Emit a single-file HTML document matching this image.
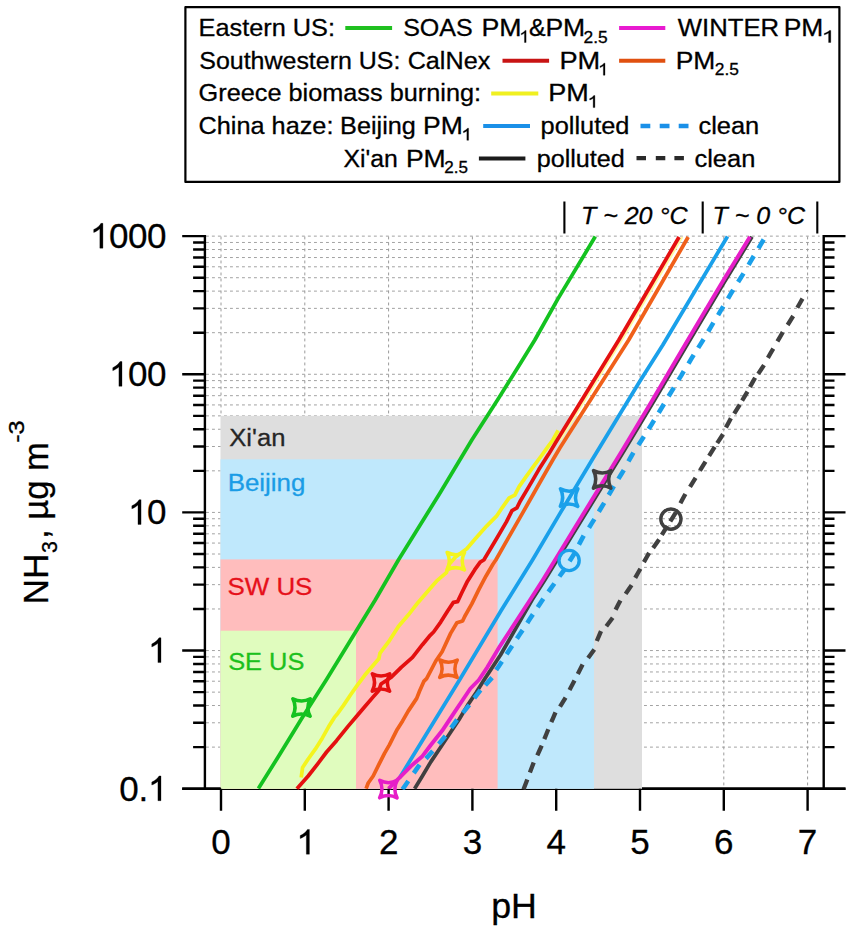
<!DOCTYPE html><html><head><meta charset="utf-8"><title>chart</title>
<style>html,body{margin:0;padding:0;background:#fff}svg{display:block}text{font-family:"Liberation Sans",sans-serif;fill:#000;stroke:#000;stroke-width:0.3px}</style></head><body>
<svg width="850" height="929" viewBox="0 0 850 929">
<rect width="850" height="929" fill="#fff"/>
<path d="M206.0 788.70H819.7M206.0 747.12H819.7M206.0 722.79H819.7M206.0 705.53H819.7M206.0 692.14H819.7M206.0 681.21H819.7M206.0 671.96H819.7M206.0 663.95H819.7M206.0 656.88H819.7M206.0 650.56H819.7M206.0 608.98H819.7M206.0 584.65H819.7M206.0 567.39H819.7M206.0 554.00H819.7M206.0 543.07H819.7M206.0 533.82H819.7M206.0 525.81H819.7M206.0 518.74H819.7M206.0 512.42H819.7M206.0 470.84H819.7M206.0 446.51H819.7M206.0 429.25H819.7M206.0 415.86H819.7M206.0 404.93H819.7M206.0 395.68H819.7M206.0 387.67H819.7M206.0 380.60H819.7M206.0 374.28H819.7M206.0 332.70H819.7M206.0 308.37H819.7M206.0 291.11H819.7M206.0 277.72H819.7M206.0 266.79H819.7M206.0 257.54H819.7M206.0 249.53H819.7M206.0 242.46H819.7M205.9 236.14H819.7" stroke="#a2a2a2" stroke-width="1" stroke-dasharray="2.9 3.1" fill="none"/>
<path d="M221.00 236.5V415.5M304.80 236.5V788.7M388.60 236.5V788.7M472.40 236.5V788.7M556.20 236.5V788.7M640.00 236.5V788.7M723.80 236.5V788.7M807.60 236.5V788.7" stroke="#9a9a9a" stroke-width="1" stroke-dasharray="2.9 3.1" fill="none"/>
<path d="M182.2 788.7H845.5" stroke="#000" stroke-width="2.4" fill="none"/>
<rect x="220.5" y="415.8" width="421.5" height="373.0" fill="#dedede"/>
<rect x="220.5" y="459.3" width="373.5" height="329.5" fill="#bfe8fc"/>
<rect x="220.5" y="559.4" width="277.1" height="229.4" fill="#ffbdbd"/>
<rect x="220.5" y="630.7" width="135.5" height="158.1" fill="#e0fcbe"/>
<text transform="translate(229.22,446.00) scale(1.0428,1)" font-size="24.6" style="fill:#262626;stroke:#262626">Xi'an</text>
<text transform="translate(227.66,490.50) scale(1.0522,1)" font-size="24.6" style="fill:#1a9ce6;stroke:#1a9ce6">Beijing</text>
<text transform="translate(227.43,595.20) scale(1.0542,1)" font-size="24.6" style="fill:#e6101a;stroke:#e6101a">SW US</text>
<text transform="translate(228.16,669.60) scale(1.0323,1)" font-size="24.6" style="fill:#1cc01c;stroke:#1cc01c">SE US</text>
<clipPath id="pc"><rect x="205" y="200" width="640" height="589.8"/></clipPath><g clip-path="url(#pc)">
<path d="M560.3 440.0 L621.9 340.0 L682.3 237.0" stroke="#fff9a0" stroke-width="2.2" fill="none" stroke-linejoin="round"/>
<path d="M301.2 777.4 L302.6 767.5 L308.2 759.0 L315.3 749.2 L322.4 737.9 L328.7 726.6 L334.4 717.4 L337.9 713.2 L343.5 705.4 L350.6 694.8 L357.0 685.6 L361.2 680.0 L364.7 675.3 L378.8 658.8 L380.0 653.2 L388.5 641.9 L398.4 626.4 L408.2 615.1 L418.1 602.4 L428.0 591.1 L436.5 581.2 L446.4 572.7 L449.2 564.2 L455.5 557.0 L466.8 548.7 L475.3 538.8 L486.6 526.1 L496.5 516.2 L502.1 507.8 L509.2 497.9 L514.8 495.1 L519.1 486.6 L526.1 476.7 L533.2 466.8 L541.6 455.5 L548.7 445.6 L552.9 440.0 L558.1 430.4" stroke="#f4f41e" stroke-width="3.75" fill="none" stroke-linejoin="round"/>
<path d="M258.4 788.5 L279.5 754.8 L302.0 718.0 L326.2 680.0 L375.2 600.0 L398.4 560.0 L440.0 493.0 L471.8 440.0 L497.5 400.0 L520.0 364.0 L534.8 340.0 L557.6 299.4 L595.3 236.5" stroke="#14c220" stroke-width="3.75" fill="none" stroke-linejoin="round"/>
<path d="M366.1 788.7 L368.2 783.0 L373.2 776.0 L378.8 764.7 L384.5 753.4 L389.4 744.9 L392.9 737.9 L397.2 729.4 L402.6 720.9 L408.2 711.1 L416.7 698.4 L419.5 691.3 L423.8 681.4 L426.6 678.6 L435.8 661.0 L442.1 651.8 L450.6 633.4 L456.9 622.8 L462.6 621.0 L464.7 616.5 L471.8 603.8 L478.8 589.6 L485.9 576.2 L492.9 564.2 L495.8 560.0 L507.8 538.8 L519.1 519.1 L530.4 499.3 L541.6 479.5 L552.9 459.8 L560.0 447.8 L628.7 340.0 L688.2 237.0" stroke="#f0601a" stroke-width="3.75" fill="none" stroke-linejoin="round"/>
<path d="M296.9 788.7 L308.2 776.0 L318.1 763.3 L326.6 752.0 L336.5 740.7 L347.8 726.6 L356.2 716.7 L364.7 706.8 L373.2 696.9 L378.8 690.6 L381.0 684.0 L391.3 677.2 L401.2 667.3 L412.5 657.4 L422.4 644.7 L429.4 636.2 L433.6 632.0 L440.7 622.1 L447.8 610.8 L453.4 602.4 L457.6 601.6 L461.9 592.5 L467.5 581.2 L474.6 569.9 L480.2 562.1 L483.8 560.0 L496.5 538.8 L506.4 521.9 L512.0 510.6 L516.9 507.8 L520.5 500.7 L528.9 486.6 L538.8 469.6 L548.7 454.1 L557.2 440.0 L618.8 340.0 L679.1 237.0" stroke="#e41010" stroke-width="3.75" fill="none" stroke-linejoin="round"/>
<path d="M399.8 777.4 L459.5 680.0 L501.0 610.8 L532.5 560.0 L560.0 513.4 L592.0 460.0 L640.0 381.0 L662.8 345.0 L720.0 249.0 L727.5 236.5" stroke="#1aa0ea" stroke-width="3.75" fill="none" stroke-linejoin="round"/>
<path d="M414.6 788.7 L422.4 776.0 L430.8 761.9 L439.3 749.2 L450.6 732.2 L459.1 719.5 L467.5 705.4 L476.0 692.7 L484.0 680.0 L500.5 655.0 L532.0 600.0 L544.8 580.0 L624.5 450.0 L654.5 400.0 L686.9 345.0 L723.0 284.3 L752.0 236.8" stroke="#404040" stroke-width="3.75" fill="none" stroke-linejoin="round"/>
<path d="M388.5 788.7 L399.8 777.4 L411.0 766.1 L422.4 756.2 L430.8 745.0 L442.1 730.8 L453.4 713.9 L464.7 697.0 L470.4 688.5 L478.8 680.0 L487.3 667.3 L500.0 646.1 L530.0 600.0 L542.8 580.0 L622.5 450.0 L652.5 400.0 L684.9 345.0 L721.0 284.3 L750.0 236.8" stroke="#e61ec8" stroke-width="3.9" fill="none" stroke-linejoin="round"/>
<path d="M402.5 789.4L405.4 785.2L408.3 781.0M413.8 773.1L416.7 768.9L419.6 764.7M426.0 758.6L429.4 754.8L432.8 751.0M438.8 743.9L442.1 740.0L445.4 736.1M451.1 727.9L454.1 723.8L457.1 719.7M462.9 712.9L466.1 708.9L469.3 704.9M474.3 698.2L477.4 694.1L480.5 690.0M485.3 685.2L488.7 681.4L492.1 677.6M496.2 670.0L499.1 665.7L501.9 661.4M506.6 654.3L509.4 650.0L512.2 645.8M516.9 638.6L519.8 634.3L522.6 630.1M527.3 622.9L530.1 618.6L532.9 614.4M537.7 607.2L540.5 602.9L543.3 598.7M548.4 591.8L551.4 587.6L554.4 583.5M559.4 576.5L562.4 572.4L565.4 568.3M569.5 561.3L572.2 557.0L574.9 552.7M578.9 544.7L581.3 540.2L583.7 535.7M589.0 527.7L591.7 523.4L594.4 519.1M598.8 511.7L601.5 507.3L604.2 502.9M608.7 495.0L611.3 490.6L613.9 486.2M618.4 478.9L621.1 474.5L623.8 470.1M628.4 461.4L630.9 457.0L633.4 452.6M638.4 445.1L641.2 440.8L643.9 436.5M648.7 429.0L651.4 424.7L654.1 420.3M658.7 412.7L661.4 408.3L664.0 404.0M668.6 396.3L671.3 391.9L673.9 387.6M678.5 379.9L681.2 375.6L683.8 371.2M688.5 363.6L691.1 359.2L693.7 354.8M698.2 347.9L700.9 343.6L703.6 339.3M708.2 331.5L710.8 327.1L713.4 322.7M718.1 315.1L720.7 310.7L723.3 306.3M728.0 298.6L730.6 294.2L733.2 289.8M738.1 282.0L740.8 277.7L743.5 273.4M748.6 264.8L751.2 260.4L753.8 256.0M758.5 248.3L761.1 243.9L763.7 239.5" stroke="#1aa0ea" stroke-width="4.6" fill="none" stroke-linejoin="round"/>
<path d="M523.5 789.4L525.4 784.4L527.3 779.4M529.9 772.4L531.8 767.4L533.7 762.4M537.3 755.3L539.5 750.5L541.7 745.7M544.3 739.1L546.3 734.2L548.3 729.3M551.3 722.2L553.4 717.3L555.5 712.4M560.0 706.7L562.8 702.2L565.6 697.7M569.5 689.9L572.0 685.2L574.5 680.5M577.8 674.0L580.2 669.3L582.6 664.6M588.1 658.1L591.2 653.8L594.3 649.5M596.8 641.0L598.9 636.1L601.0 631.2M606.3 626.2L609.5 622.0L612.7 617.8M615.6 609.8L618.0 605.1L620.4 600.4M625.6 593.9L628.6 589.5L631.6 585.1M635.2 577.9L637.8 573.3L640.4 568.7M643.9 562.1L646.5 557.5L649.1 552.9M653.1 548.1L656.1 543.8L659.1 539.5M661.8 534.9L664.6 530.4L667.4 525.9M670.3 521.4L673.1 516.9L675.9 512.4M680.4 503.3L682.9 498.6L685.4 493.9M690.0 486.9L692.8 482.4L695.6 477.9M699.9 470.6L702.7 466.1L705.5 461.6M709.1 455.8L711.9 451.3L714.7 446.8M717.2 443.1L720.1 438.7L723.0 434.3M725.9 427.6L728.4 422.9L730.9 418.2M734.2 413.6L737.0 409.1L739.8 404.6M742.1 400.7L744.8 396.2L747.5 391.7M749.9 387.0L752.5 382.4L755.1 377.8M758.2 373.9L761.1 369.5L764.0 365.1M767.9 357.8L770.6 353.2L773.3 348.6M777.4 341.4L780.1 336.8L782.8 332.2M787.6 325.0L790.4 320.5L793.2 316.0M797.3 307.8L799.9 303.2L802.5 298.6" stroke="#404040" stroke-width="4.3" fill="none" stroke-linejoin="round"/>
<path d="M806 291.5L808 290" stroke="#404040" stroke-width="1.5"/>
</g>
<path d="M310.2 716.3Q301.5 711.6 292.7 716.2Q297.4 707.5 292.8 698.7Q301.5 703.4 310.3 698.8Q305.6 707.5 310.2 716.3Z" stroke="#14c220" stroke-width="3.5" fill="none" stroke-linejoin="round"/>
<path d="M389.7 691.3Q381.0 686.6 372.2 691.2Q376.9 682.5 372.3 673.7Q381.0 678.4 389.8 673.8Q385.1 682.5 389.7 691.3Z" stroke="#e41010" stroke-width="3.5" fill="none" stroke-linejoin="round"/>
<path d="M457.2 677.5Q448.5 672.8 439.7 677.4Q444.4 668.7 439.8 659.9Q448.5 664.6 457.3 660.0Q452.6 668.7 457.2 677.5Z" stroke="#f0601a" stroke-width="3.5" fill="none" stroke-linejoin="round"/>
<path d="M464.5 570.0Q455.8 565.3 447.0 569.9Q451.7 561.2 447.1 552.4Q455.8 557.1 464.6 552.5Q459.9 561.2 464.5 570.0Z" stroke="#f4f41e" stroke-width="3.5" fill="none" stroke-linejoin="round"/>
<path d="M577.8 506.4Q569.1 501.7 560.3 506.3Q565.0 497.6 560.4 488.8Q569.1 493.5 577.9 488.9Q573.2 497.6 577.8 506.4Z" stroke="#1aa0ea" stroke-width="3.5" fill="none" stroke-linejoin="round"/>
<path d="M610.9 488.2Q602.2 483.5 593.4 488.1Q598.1 479.4 593.5 470.6Q602.2 475.3 611.0 470.7Q606.3 479.4 610.9 488.2Z" stroke="#404040" stroke-width="3.5" fill="none" stroke-linejoin="round"/>
<circle cx="569.1" cy="560.5" r="10.1" stroke="#1aa0ea" stroke-width="3.4" fill="none"/>
<circle cx="670.9" cy="519.1" r="10.1" stroke="#404040" stroke-width="3.4" fill="none"/>
<path d="M204.9 235.0V789.9M823.7 235.0V789.9M182.2 788.7H221M642 788.7H845.5M182.2 788.70H204.9M823.7 788.70H845.5M193.1 747.12H204.9M823.7 747.12H834.5M193.1 722.79H204.9M823.7 722.79H834.5M193.1 705.53H204.9M823.7 705.53H834.5M193.1 692.14H204.9M823.7 692.14H834.5M193.1 681.21H204.9M823.7 681.21H834.5M193.1 671.96H204.9M823.7 671.96H834.5M193.1 663.95H204.9M823.7 663.95H834.5M193.1 656.88H204.9M823.7 656.88H834.5M182.2 650.56H204.9M823.7 650.56H845.5M193.1 608.98H204.9M823.7 608.98H834.5M193.1 584.65H204.9M823.7 584.65H834.5M193.1 567.39H204.9M823.7 567.39H834.5M193.1 554.00H204.9M823.7 554.00H834.5M193.1 543.07H204.9M823.7 543.07H834.5M193.1 533.82H204.9M823.7 533.82H834.5M193.1 525.81H204.9M823.7 525.81H834.5M193.1 518.74H204.9M823.7 518.74H834.5M182.2 512.42H204.9M823.7 512.42H845.5M193.1 470.84H204.9M823.7 470.84H834.5M193.1 446.51H204.9M823.7 446.51H834.5M193.1 429.25H204.9M823.7 429.25H834.5M193.1 415.86H204.9M823.7 415.86H834.5M193.1 404.93H204.9M823.7 404.93H834.5M193.1 395.68H204.9M823.7 395.68H834.5M193.1 387.67H204.9M823.7 387.67H834.5M193.1 380.60H204.9M823.7 380.60H834.5M182.2 374.28H204.9M823.7 374.28H845.5M193.1 332.70H204.9M823.7 332.70H834.5M193.1 308.37H204.9M823.7 308.37H834.5M193.1 291.11H204.9M823.7 291.11H834.5M193.1 277.72H204.9M823.7 277.72H834.5M193.1 266.79H204.9M823.7 266.79H834.5M193.1 257.54H204.9M823.7 257.54H834.5M193.1 249.53H204.9M823.7 249.53H834.5M193.1 242.46H204.9M823.7 242.46H834.5M182.2 236.14H204.9M823.7 236.14H845.5M221.00 788.7V810.8M304.80 788.7V810.8M388.60 788.7V810.8M472.40 788.7V810.8M556.20 788.7V810.8M640.00 788.7V810.8M723.80 788.7V810.8M807.60 788.7V810.8" stroke="#000" stroke-width="2.4" fill="none"/>
<path d="M397.1 797.9Q388.4 793.2 379.6 797.8Q384.3 789.1 379.7 780.3Q388.4 785.0 397.2 780.4Q392.5 789.1 397.1 797.9Z" stroke="#e61ec8" stroke-width="3.5" fill="none" stroke-linejoin="round"/>
<path transform="translate(89.88,248.14) scale(0.01709,-0.01683)" d="M763 0H583V1147Q518 1085 412.5 1023Q307 961 223 930V1104Q374 1175 487 1276Q600 1377 647 1472H763Z" fill="#000" stroke="#000" stroke-width="0.3" vector-effect="non-scaling-stroke"/>
<text transform="translate(108.95,248.14) scale(1.0,1.0)" font-size="35">0</text>
<text transform="translate(128.02,248.14) scale(1.0,1.0)" font-size="35">0</text>
<text transform="translate(147.09,248.14) scale(1.0,1.0)" font-size="35">0</text>
<path transform="translate(108.95,386.28) scale(0.01709,-0.01683)" d="M763 0H583V1147Q518 1085 412.5 1023Q307 961 223 930V1104Q374 1175 487 1276Q600 1377 647 1472H763Z" fill="#000" stroke="#000" stroke-width="0.3" vector-effect="non-scaling-stroke"/>
<text transform="translate(128.02,386.28) scale(1.0,1.0)" font-size="35">0</text>
<text transform="translate(147.09,386.28) scale(1.0,1.0)" font-size="35">0</text>
<path transform="translate(128.02,524.42) scale(0.01709,-0.01683)" d="M763 0H583V1147Q518 1085 412.5 1023Q307 961 223 930V1104Q374 1175 487 1276Q600 1377 647 1472H763Z" fill="#000" stroke="#000" stroke-width="0.3" vector-effect="non-scaling-stroke"/>
<text transform="translate(147.09,524.42) scale(1.0,1.0)" font-size="35">0</text>
<path transform="translate(147.96,662.56) scale(0.01709,-0.01683)" d="M763 0H583V1147Q518 1085 412.5 1023Q307 961 223 930V1104Q374 1175 487 1276Q600 1377 647 1472H763Z" fill="#000" stroke="#000" stroke-width="0.3" vector-effect="non-scaling-stroke"/>
<text transform="translate(119.36,800.70) scale(1.0,1.0)" font-size="35">0</text>
<text transform="translate(138.43,800.70) scale(1.0,1.0)" font-size="35">.</text>
<path transform="translate(147.96,800.70) scale(0.01709,-0.01683)" d="M763 0H583V1147Q518 1085 412.5 1023Q307 961 223 930V1104Q374 1175 487 1276Q600 1377 647 1472H763Z" fill="#000" stroke="#000" stroke-width="0.3" vector-effect="non-scaling-stroke"/>
<text transform="translate(211.24,854.20) scale(1.0,1.0)" font-size="35">0</text>
<path transform="translate(296.37,854.20) scale(0.01709,-0.01683)" d="M763 0H583V1147Q518 1085 412.5 1023Q307 961 223 930V1104Q374 1175 487 1276Q600 1377 647 1472H763Z" fill="#000" stroke="#000" stroke-width="0.3" vector-effect="non-scaling-stroke"/>
<text transform="translate(378.89,854.20) scale(1.0,1.0)" font-size="35">2</text>
<text transform="translate(462.77,854.20) scale(1.0,1.0)" font-size="35">3</text>
<text transform="translate(546.58,854.20) scale(1.0,1.0)" font-size="35">4</text>
<text transform="translate(630.29,854.20) scale(1.0,1.0)" font-size="35">5</text>
<text transform="translate(713.96,854.20) scale(1.0,1.0)" font-size="35">6</text>
<text transform="translate(797.84,854.20) scale(1.0,1.0)" font-size="35">7</text>
<text transform="translate(491.18,918.00) scale(1.0071,1)" font-size="35.5">pH</text>
<g transform="rotate(-90)">
<text transform="translate(-604.50,48.40) scale(0.9903,1)" font-size="35.5">NH</text>
<text transform="translate(-553.10,57.00) scale(0.9665,1)" font-size="22">3</text>
<text transform="translate(-539.12,48.40) scale(0.9775,1)" font-size="35.5">, µg m</text>
<text transform="translate(-442.84,24.00) scale(1.1534,1)" font-size="22">-3</text>
</g>
<path d="M564.4 201.5V233.4M702.7 201.5V233.4M817.3 201.5V233.4" stroke="#000" stroke-width="2.1" fill="none"/>
<text transform="translate(580.95,224.40) scale(1.0252,1)" font-size="24.4" font-style="italic">T ~ 20 °C</text>
<text transform="translate(712.55,224.40) scale(1.0239,1)" font-size="24.4" font-style="italic">T ~ 0 °C</text>
<rect x="185.4" y="7.1" width="654.0" height="174.8" fill="#fff" stroke="#000" stroke-width="2.2" stroke-linejoin="round"/>
<text transform="translate(198.61,36.00) scale(1.0284,1)" font-size="24.6">Eastern US:</text>
<path d="M345.3 27.9H392.1" stroke="#1fc01f" stroke-width="4.0" fill="none"/>
<text transform="translate(403.17,36.00) scale(1.0180,1)" font-size="24.6">SOAS</text>
<text transform="translate(481.39,36.00) scale(1.0871,1)" font-size="24.6">PM</text>
<path transform="translate(519.18,42.50) scale(0.00907,-0.00820)" d="M763 0H583V1147Q518 1085 412.5 1023Q307 961 223 930V1104Q374 1175 487 1276Q600 1377 647 1472H763Z" fill="#000" stroke="#000" stroke-width="0.3" vector-effect="non-scaling-stroke"/>
<text transform="translate(529.03,36.00) scale(1.0138,1)" font-size="24.6">&amp;</text>
<text transform="translate(545.41,36.00) scale(1.0779,1)" font-size="24.6">PM</text>
<text transform="translate(583.53,42.50) scale(1.0348,1)" font-size="16.8">2.5</text>
<path d="M619.1 28.1H665.3" stroke="#e81ad0" stroke-width="4.0" fill="none"/>
<text transform="translate(677.77,36.00) scale(1.0454,1)" font-size="24.6">WINTER</text>
<text transform="translate(783.72,36.00) scale(1.0749,1)" font-size="24.6">PM</text>
<path transform="translate(821.47,42.50) scale(0.01222,-0.00820)" d="M763 0H583V1147Q518 1085 412.5 1023Q307 961 223 930V1104Q374 1175 487 1276Q600 1377 647 1472H763Z" fill="#000" stroke="#000" stroke-width="0.3" vector-effect="non-scaling-stroke"/>
<text transform="translate(199.28,68.70) scale(1.0151,1)" font-size="24.6">Southwestern US:</text>
<text transform="translate(407.64,68.70) scale(1.0246,1)" font-size="24.6">CalNex</text>
<path d="M502.5 60.8H549.1" stroke="#c81414" stroke-width="4.0" fill="none"/>
<text transform="translate(559.46,68.70) scale(1.1053,1)" font-size="24.6">PM</text>
<path transform="translate(597.94,75.20) scale(0.00926,-0.00820)" d="M763 0H583V1147Q518 1085 412.5 1023Q307 961 223 930V1104Q374 1175 487 1276Q600 1377 647 1472H763Z" fill="#000" stroke="#000" stroke-width="0.3" vector-effect="non-scaling-stroke"/>
<path d="M619.1 60.7H665.3" stroke="#e05010" stroke-width="4.0" fill="none"/>
<text transform="translate(675.72,68.70) scale(1.0749,1)" font-size="24.6">PM</text>
<text transform="translate(714.73,75.20) scale(1.0348,1)" font-size="16.8">2.5</text>
<text transform="translate(198.54,101.10) scale(1.0284,1)" font-size="24.6">Greece biomass burning:</text>
<path d="M491.2 93.4H538.3" stroke="#f0f020" stroke-width="4.0" fill="none"/>
<text transform="translate(548.27,101.10) scale(1.0992,1)" font-size="24.6">PM</text>
<path transform="translate(587.55,107.60) scale(0.00963,-0.00820)" d="M763 0H583V1147Q518 1085 412.5 1023Q307 961 223 930V1104Q374 1175 487 1276Q600 1377 647 1472H763Z" fill="#000" stroke="#000" stroke-width="0.3" vector-effect="non-scaling-stroke"/>
<text transform="translate(198.54,133.80) scale(1.0277,1)" font-size="24.6">China haze:</text>
<text transform="translate(340.12,133.80) scale(1.0266,1)" font-size="24.6">Beijing</text>
<text transform="translate(423.01,133.80) scale(1.0779,1)" font-size="24.6">PM</text>
<path transform="translate(461.25,140.30) scale(0.00963,-0.00820)" d="M763 0H583V1147Q518 1085 412.5 1023Q307 961 223 930V1104Q374 1175 487 1276Q600 1377 647 1472H763Z" fill="#000" stroke="#000" stroke-width="0.3" vector-effect="non-scaling-stroke"/>
<path d="M483.2 126.1H530" stroke="#1a90e8" stroke-width="4.0" fill="none"/>
<text transform="translate(540.55,133.80) scale(1.0322,1)" font-size="24.6">polluted</text>
<path d="M640.5 126H650.3M659.7 126H669.5M678.7 126H688.5" stroke="#1a90e8" stroke-width="4.3" fill="none"/>
<text transform="translate(698.42,133.80) scale(1.0347,1)" font-size="24.6">clean</text>
<text transform="translate(343.54,166.80) scale(1.0081,1)" font-size="24.6">Xi'an</text>
<text transform="translate(405.91,166.80) scale(1.0779,1)" font-size="24.6">PM</text>
<text transform="translate(444.15,173.30) scale(1.0165,1)" font-size="16.8">2.5</text>
<path d="M478.9 158.5H525.4" stroke="#1c1c1c" stroke-width="4.0" fill="none"/>
<text transform="translate(536.66,166.80) scale(1.0238,1)" font-size="24.6">polluted</text>
<path d="M636.5 158.2H646M655.8 158.2H665.3M674.4 158.2H683.9" stroke="#2a2a2a" stroke-width="4.3" fill="none"/>
<text transform="translate(694.42,166.80) scale(1.0365,1)" font-size="24.6">clean</text>
</svg></body></html>
